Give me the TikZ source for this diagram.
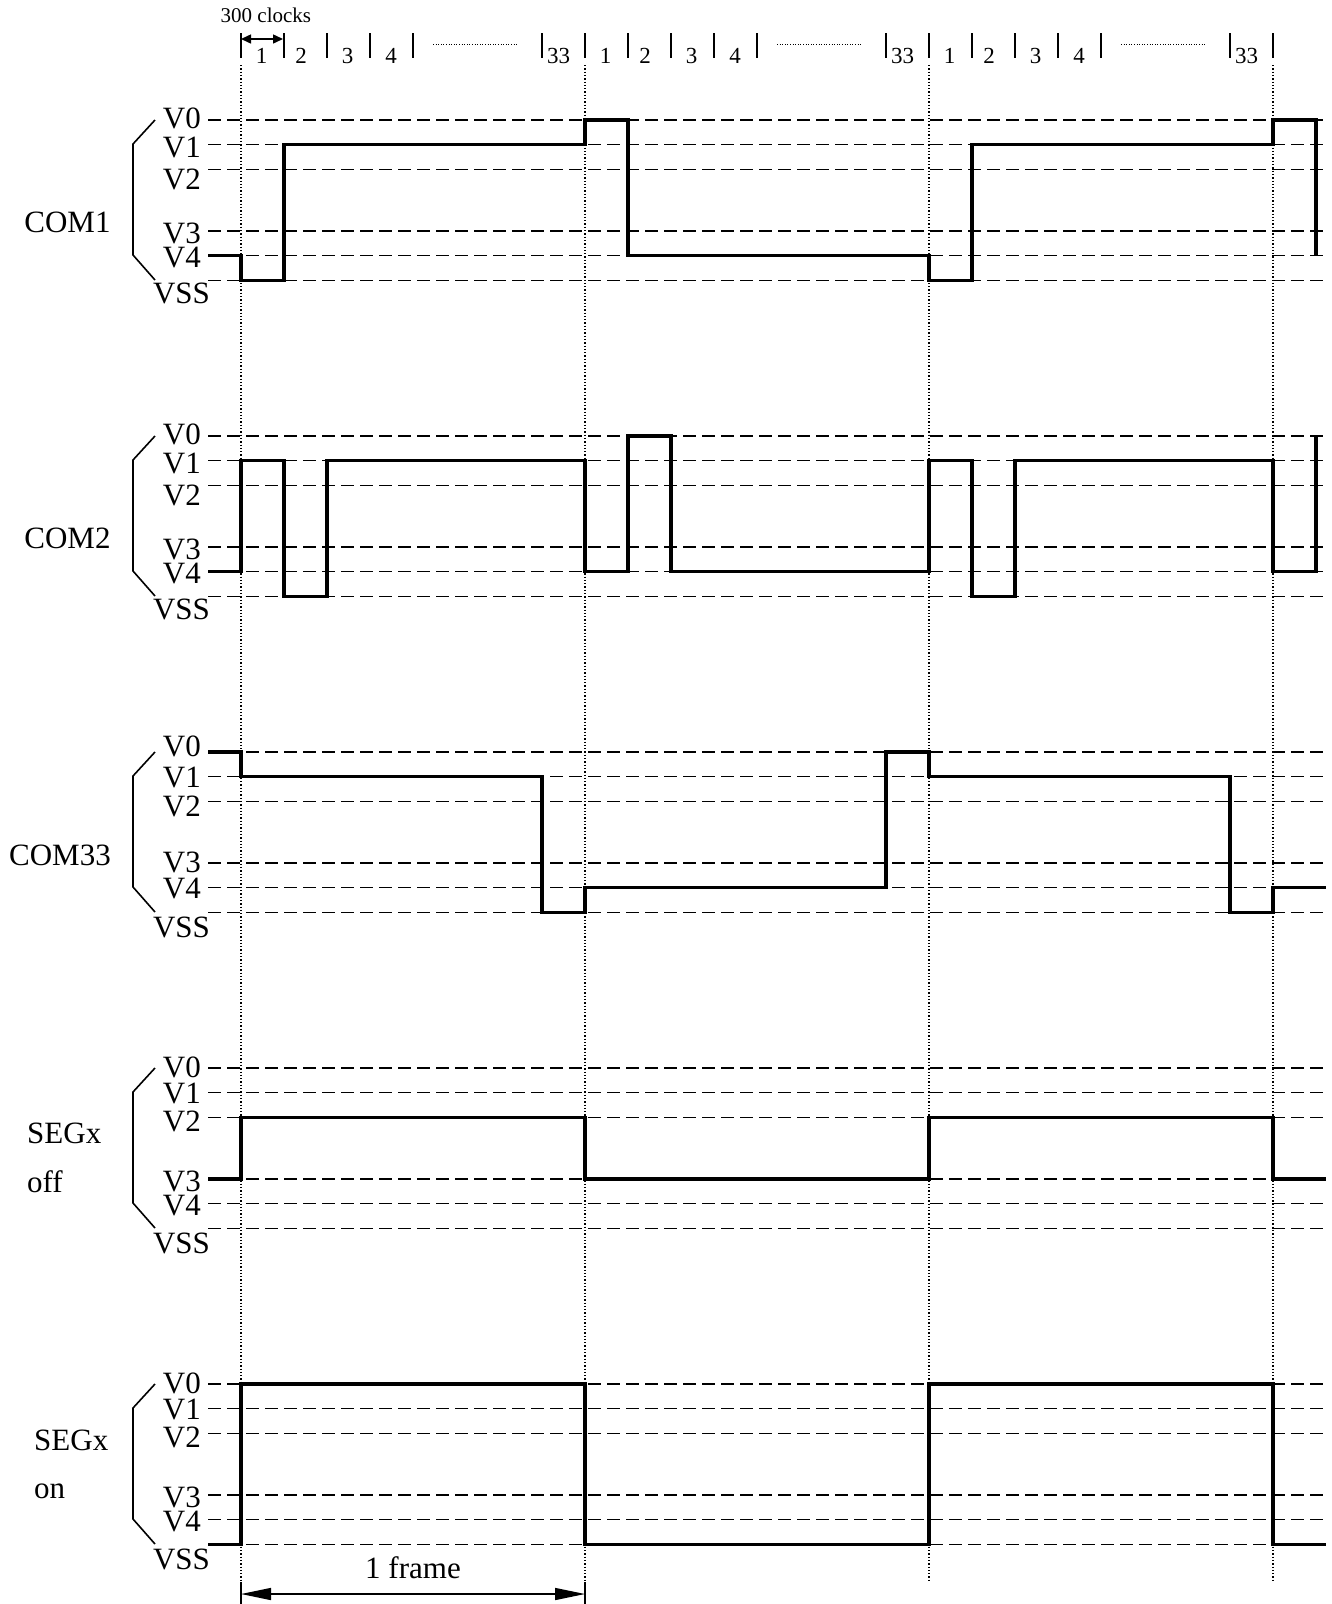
\documentclass[tikz,border=0pt]{standalone}
\usepackage{fontspec}
\setmainfont{Liberation Serif}
\usetikzlibrary{arrows.meta}
\def\Va{0}
\def\Vb{24.5}
\def\Vc{49.5}
\def\Vd{111}
\def\Ve{135.5}
\def\Vs{160.5}
\newcommand\grouplevels[7]{%
  \foreach \yy in {\Va,\Vb,\Vc,\Vd,\Ve,\Vs} \draw[dsh] (208,\yy) -- (1326,\yy);
  \draw[brk] (155,0) -- (133,24) -- (133,135) -- (155,160);
  \node[vl] (#1a) at (201,#2) {V0};
  \node[vl] (#1b) at (201,#3) {V1};
  \node[vl] (#1c) at (201,#4) {V2};
  \node[vl] (#1d) at (201,#5) {V3};
  \node[vl] (#1e) at (201,#6) {V4};
  \node[vs] (#1s) at (181.5,#7) {VSS};
}
\begin{document}
\begin{tikzpicture}[x=1pt,y=-1pt,
  wave/.style={line width=3.6pt, line join=miter},
  dsh/.style={line width=1.9pt, dash pattern=on 13pt off 6pt},
  dotv/.style={line width=1.3pt, dash pattern=on 1.3pt off 2pt},
  brk/.style={line width=1.6pt},
  tickbar/.style={line width=1.8pt},
  ell/.style={line width=1pt, dash pattern=on 1pt off 1.6pt},
  vl/.style={inner sep=0pt, anchor=east, font=\fontsize{31}{31}\selectfont},
  vs/.style={inner sep=0pt, anchor=center, font=\fontsize{31}{31}\selectfont},
  big/.style={inner sep=0pt, font=\fontsize{31}{31}\selectfont},
  slotn/.style={inner sep=0pt, anchor=base, font=\fontsize{23}{23}\selectfont},
]
\useasboundingbox (0,0) rectangle (1332,1604);

% top slot ruler
\node[inner sep=0pt, anchor=base west, font=\fontsize{21}{21}\selectfont] (clk) at (220.5,22.7) {300 clocks};
\foreach \f in {241,585,929} {
  \foreach \d in {0,43,86,129,172,301} \draw[tickbar] (\f+\d,33) -- (\f+\d,58);
  \node[slotn] at (\f+20.5,63) {1};
  \node[slotn] at (\f+60,63) {2};
  \node[slotn] at (\f+106.5,63) {3};
  \node[slotn] at (\f+150,63) {4};
  \node[slotn] at (\f+317.5,63) {33};
  \draw[ell] (\f+192,44) -- (\f+277,44);
}
\draw[tickbar] (1273,33) -- (1273,58);
\coordinate (ca) at (241,39);
\coordinate (cb) at (283,39);
\draw[line width=1.5pt, {Triangle[length=10pt,width=9pt]}-{Triangle[length=10pt,width=9pt]}] (ca) -- (cb);

% frame boundaries
\foreach \x in {241,585,929,1273} \draw[dotv] (\x,65) -- (\x,1582);
\draw[brk] (241,1582) -- (241,1604);
\draw[brk] (585,1582) -- (585,1604);

% COM1
\begin{scope}[shift={(0,120)}]
  \grouplevels{p}{-2}{27.5}{59.5}{113.5}{137.5}{173}
  \node[big, anchor=base] (com1) at (67.5,112.5) {COM1};
  \draw[wave] (208,\Ve) -| (241,\Vs) -| (284,\Vb) -| (585,\Va) -| (628,\Ve) -| (929,\Vs) -| (972,\Vb) -| (1273,\Va) -| (1316,\Ve);
\end{scope}

% COM2
\begin{scope}[shift={(0,436)}]
  \grouplevels{q}{-2}{27.5}{59.5}{113.5}{137.5}{173}
  \node[big, anchor=base] (com2) at (67.5,112.5) {COM2};
  \draw[wave] (208,\Ve) -| (241,\Vb) -| (284,\Vs) -| (327,\Vb) -| (585,\Ve) -| (628,\Va) -| (671,\Ve) -| (929,\Vb) -| (972,\Vs) -| (1015,\Vb) -| (1273,\Ve) -| (1316,\Va);
\end{scope}

% COM33
\begin{scope}[shift={(0,752)}]
  \grouplevels{r}{-6}{25.5}{54}{110.5}{137}{175}
  \node[big, anchor=base] (com33) at (60,113) {COM33};
  \draw[wave] (208,\Va) -| (241,\Vb) -| (542,\Vs) -| (585,\Ve) -| (886,\Va) -| (929,\Vb) -| (1230,\Vs) -| (1273,\Ve) -- (1326,\Ve);
\end{scope}

% SEGx off
\begin{scope}[shift={(0,1068)}]
  \grouplevels{s}{-1}{25}{53}{113}{138}{175}
  \node[big, anchor=base west] (segoff) at (27,75) {SEGx};
  \node[big, anchor=base west] (off) at (27,124) {off};
  \draw[wave] (208,\Vd) -| (241,\Vc) -| (585,\Vd) -| (929,\Vc) -| (1273,\Vd) -- (1326,\Vd);
\end{scope}

% SEGx on
\begin{scope}[shift={(0,1384)}]
  \grouplevels{t}{-1}{25}{53}{113}{138}{175}
  \node[big, anchor=base west] (segon) at (34,66.5) {SEGx};
  \node[big, anchor=base west] (on) at (34,114) {on};
  \draw[wave] (208,\Vs) -| (241,\Va) -| (585,\Vs) -| (929,\Va) -| (1273,\Vs) -- (1326,\Vs);
\end{scope}

% frame arrow
\coordinate (fa) at (241,1594);
\coordinate (fb) at (585,1594);
\draw[line width=1.5pt, {Triangle[length=30pt,width=12pt]}-{Triangle[length=30pt,width=12pt]}] (fa) -- (fb);
\node[big, anchor=base] (frame) at (413,1578) {1 frame};
\end{tikzpicture}
\end{document}
